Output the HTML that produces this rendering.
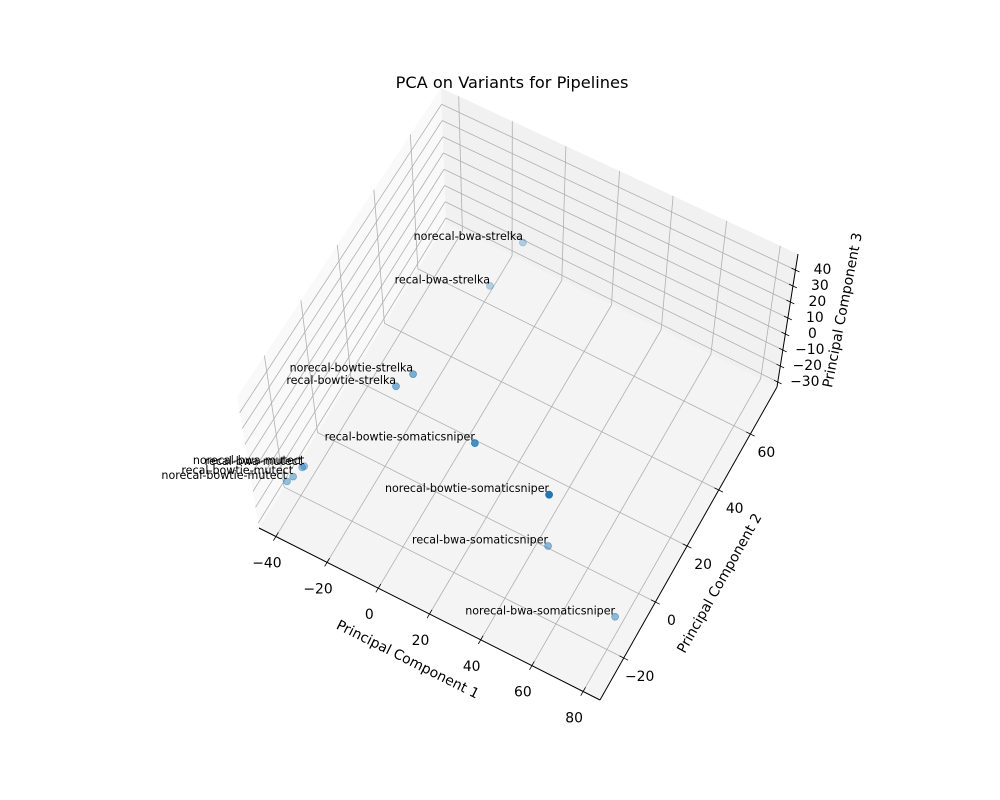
<!DOCTYPE html>
<html><head><meta charset="utf-8"><title>PCA on Variants for Pipelines</title>
<style>
html,body{margin:0;padding:0;background:#fff;}
svg{display:block;}
text{font-family:"DejaVu Sans","Liberation Sans",sans-serif;}
</style></head>
<body>
<svg id="chart" width="1000" height="800" viewBox="0 0 1000 800" xmlns="http://www.w3.org/2000/svg">
<rect x="0" y="0" width="1000" height="800" fill="#ffffff"/>
<text x="512" y="88" text-anchor="middle" font-size="16.2" fill="#000">PCA on Variants for Pipelines</text>
<g id="panes"></g>
<g id="grid"></g>
<g id="axes"></g>
<g id="ticklabels"></g>
<g id="points"></g>
<g id="labels"></g>
<text x="408" y="664" text-anchor="middle" font-size="13.9" transform="rotate(26.7 408 659)">Principal Component 1</text>
<text x="719" y="588" text-anchor="middle" font-size="13.9" transform="rotate(-60.6 719 583)">Principal Component 2</text>
<text x="842" y="315" text-anchor="middle" font-size="13.9" transform="rotate(-79 842 310)">Principal Component 3</text>
</svg>
<script>
// ---- data ----
var pipelines = ["norecal-bwa-strelka","recal-bwa-strelka","norecal-bowtie-strelka","recal-bowtie-strelka",
  "recal-bowtie-somaticsniper","norecal-bowtie-somaticsniper","recal-bwa-somaticsniper","norecal-bwa-somaticsniper",
  "norecal-bwa-mutect","recal-bwa-mutect","recal-bowtie-mutect","norecal-bowtie-mutect"];
var pc1 = [-7.8, -11.1, -12.9, -16.6, 21.9, 55.4, 48.8, 78.8, -36.2, -36.6, -37.6, -38.5];
var pc2 = [64.7, 50.4, 8.9, 4.5, -8.8, -19.0, -7.6, -13.5, -20.9, -21.5, -25.3, -27.5];
var pc3 = [5, 0, 15, 12, 30, 42, -15, -25, -10, -10, -10, -10];
var xTicks = [-40, -20, 0, 20, 40, 60, 80];
var yTicks = [-20, 0, 20, 40, 60];
var zTicks = [-30, -20, -10, 0, 10, 20, 30, 40];
var xLim = [-46.6, 86.6];
var yLim = [-35, 76.8];
var zLim = [-33.1, 50];

// ---- projection (box corners in screen space) ----
var cA=[259,528], cB=[600,700], cC=[777,387], cD=[446,223];
var tA=[237,397], tB=[609,566], tC=[798,254], tD=[441,88];
function bil(p00,p10,p11,p01,u,v){
  return [p00[0]*(1-u)*(1-v)+p10[0]*u*(1-v)+p11[0]*u*v+p01[0]*(1-u)*v,
          p00[1]*(1-u)*(1-v)+p10[1]*u*(1-v)+p11[1]*u*v+p01[1]*(1-u)*v];
}
function P(x,y,z){
  var u=(x-xLim[0])/(xLim[1]-xLim[0]), v=(y-yLim[0])/(yLim[1]-yLim[0]), w=(z-zLim[0])/(zLim[1]-zLim[0]);
  var f=bil(cA,cB,cC,cD,u,v), t=bil(tA,tB,tC,tD,u,v);
  return [f[0]+(t[0]-f[0])*w, f[1]+(t[1]-f[1])*w];
}
function depth(x,y,z){
  var xn=(x-xLim[0])/(xLim[1]-xLim[0])*4, yn=(y-yLim[0])/(yLim[1]-yLim[0])*4, zn=(z-zLim[0])/(zLim[1]-zLim[0])*3;
  return 0.22*xn-0.39*yn+0.89*zn;
}
var NS="http://www.w3.org/2000/svg";
function mk(tag,parent,attrs){var e=document.createElementNS(NS,tag);for(var k in attrs)e.setAttribute(k,attrs[k]);parent.appendChild(e);return e;}
function poly(pts){return pts.map(function(p){return p[0].toFixed(1)+","+p[1].toFixed(1);}).join(" ");}

var panes=document.getElementById("panes");
var X0=xLim[0],X1=xLim[1],Y0=yLim[0],Y1=yLim[1],Z0=zLim[0],Z1=zLim[1];
var pf=mk("polygon",panes,{points:poly([P(X0,Y0,Z0),P(X1,Y0,Z0),P(X1,Y1,Z0),P(X0,Y1,Z0)]),fill:"#f4f4f4"});


var pl=mk("polygon",panes,{points:poly([P(X0,Y0,Z0),P(X0,Y1,Z0),P(X0,Y1,Z1),P(X0,Y0,Z1)]),fill:"#f9f9f9"});


var pb=mk("polygon",panes,{points:poly([P(X0,Y1,Z0),P(X1,Y1,Z0),P(X1,Y1,Z1),P(X0,Y1,Z1)]),fill:"#f1f1f1"});



var grid=document.getElementById("grid");
function gl(p,q,name){var l=mk("line",grid,{x1:p[0],y1:p[1],x2:q[0],y2:q[1],stroke:"#b0b0b0","stroke-width":"0.8"});
  
  }
xTicks.forEach(function(t){gl(P(t,Y0,Z0),P(t,Y1,Z0),'floor-grid-x');gl(P(t,Y1,Z0),P(t,Y1,Z1),'back-grid-x');});
yTicks.forEach(function(t){gl(P(X0,t,Z0),P(X1,t,Z0),'floor-grid-y');gl(P(X0,t,Z0),P(X0,t,Z1),'left-grid-y');});
zTicks.forEach(function(t){gl(P(X0,Y0,t),P(X0,Y1,t),'left-grid-z');gl(P(X0,Y1,t),P(X1,Y1,t),'back-grid-z');});

var axes=document.getElementById("axes");
function al(p,q,name,w){var l=mk("line",axes,{x1:p[0],y1:p[1],x2:q[0],y2:q[1],stroke:"#000","stroke-width":w});
  
  }
al(P(X0,Y0,Z0),P(X1,Y0,Z0),'x-axis-line',1);
al(P(X1,Y0,Z0),P(X1,Y1,Z0),'y-axis-line',1);
al(P(X1,Y1,Z0),P(X1,Y1,Z1),'z-axis-line',1);

var tl=document.getElementById("ticklabels");
function lab(p,txt,name){var t=mk("text",tl,{x:p[0].toFixed(1),y:p[1].toFixed(1),"text-anchor":"middle","dominant-baseline":"central","font-size":"13.9",fill:"#000"});
  t.textContent=txt;
  
  }
function fmt(t){return t<0?"\u2212"+Math.abs(t):String(t);}
xTicks.forEach(function(t){
  al(P(t,Y0-1.5,Z0),P(t,Y0+1.5,Z0),'x-tick',0.8);
  var p=P(t,Y0,Z0);lab([p[0]-9,p[1]+27],fmt(t),'x-tick-label');
});
yTicks.forEach(function(t){
  al(P(X1-1.7,t,Z0),P(X1+1.7,t,Z0),'y-tick',0.8);
  var p=P(X1,t,Z0);lab([p[0]+16,p[1]+19],fmt(t),'y-tick-label');
});
zTicks.forEach(function(t){
  al(P(X1-1.5,Y1,t),P(X1+1.5,Y1,t),'z-tick',0.8);
  var p=P(X1,Y1,t);lab([p[0]+27,p[1]],fmt(t),'z-tick-label');
});

// points with depth shading
var ds=pipelines.map(function(_,i){return depth(pc1[i],pc2[i],pc3[i]);});
var dmin=Math.min.apply(null,ds), dmax=Math.max.apply(null,ds);
var order=pipelines.map(function(_,i){return i;}).sort(function(a,b){return ds[a]-ds[b];});
var pg=document.getElementById("points"), lg=document.getElementById("labels");
order.forEach(function(i){
  var p=P(pc1[i],pc2[i],pc3[i]);
  var a=0.3+0.7*(ds[i]-dmin)/(dmax-dmin);
  var c=mk("circle",pg,{cx:p[0].toFixed(1),cy:p[1].toFixed(1),r:"3.5",fill:"#1f77b4","fill-opacity":a.toFixed(2),stroke:"#1f77b4","stroke-opacity":a.toFixed(2),"stroke-width":"0.8"});
  
  
});
pipelines.forEach(function(n,i){
  var p=P(pc1[i],pc2[i],pc3[i]);
  var t=mk("text",lg,{x:p[0].toFixed(1),y:(p[1]-2.5).toFixed(1),"text-anchor":"end","font-size":"11.1",fill:"#000"});
  t.textContent=n;
  
  
});
</script>
</body></html>
